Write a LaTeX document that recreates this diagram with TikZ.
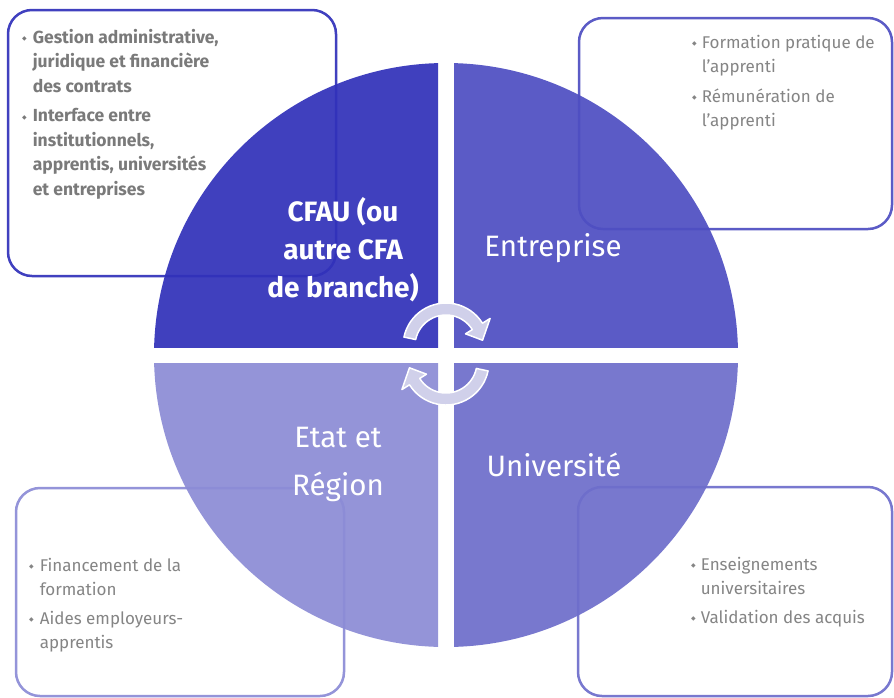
\documentclass[tikz,border=0pt]{standalone}
\usepackage{fontspec}
\setmainfont{Fira Sans}
\newfontfamily\dvfont{DejaVu Sans}
\definecolor{qa}{RGB}{50,50,186}
\definecolor{qb}{RGB}{79,79,194}
\definecolor{qc}{RGB}{140,140,214}
\definecolor{qd}{RGB}{110,110,203}
\definecolor{ba}{HTML}{4040BF}
\definecolor{bb}{HTML}{5B5BC6}
\definecolor{bc}{HTML}{9494D9}
\definecolor{bd}{HTML}{7878CF}
\definecolor{arrowc}{HTML}{D0D0EA}
\definecolor{txtgray}{HTML}{858585}
\definecolor{txtbold}{HTML}{7A7A7A}
\newcommand{\bulmark}{\raisebox{2.5pt}{\dvfont\fontsize{6}{6}\selectfont ◆}}
\tikzset{
  boxst/.style={draw, line width=2.5pt, rounded corners=24pt, fill=none, inner sep=0pt},
  lst/.style={anchor=north west, inner sep=0pt, text=txtgray, font=\fontsize{17}{24}\selectfont, align=left},
  qlab/.style={text=white, font=\fontsize{29.5}{48}\selectfont, align=center, inner sep=0pt},
  cyc/.style={fill=arrowc, draw=white, line width=1.5pt, line join=round},
}
\begin{document}
\begin{tikzpicture}[x=1pt,y=-1pt]
\useasboundingbox (0,0) rectangle (894,697);
\fill[white] (0,0) rectangle (894,697);
% boxes
\node[boxst, draw=ba, minimum width=328pt, minimum height=266pt] (b1) at (172,143) {};
\node[boxst, draw=bb, minimum width=313pt, minimum height=211pt] (b2) at (735.5,123.5) {};
\node[boxst, draw=bc, minimum width=328pt, minimum height=208pt] (b3) at (180,592) {};
\node[boxst, draw=bd, minimum width=314pt, minimum height=209pt] (b4) at (735,591.5) {};
% quadrants
\begin{scope}
\clip (0,0) rectangle (438,347);
\fill[qa, fill opacity=0.93] (446,355) circle[radius=292pt];
\end{scope}
\begin{scope}
\clip (454,0) rectangle (894,347);
\fill[qb, fill opacity=0.93] (446,355) circle[radius=292pt];
\end{scope}
\begin{scope}
\clip (0,363) rectangle (438,697);
\fill[qc, fill opacity=0.93] (446,355) circle[radius=292pt];
\end{scope}
\begin{scope}
\clip (454,363) rectangle (894,697);
\fill[qd, fill opacity=0.93] (446,355) circle[radius=292pt];
\end{scope}
% cycle arrows
\begin{scope}[shift={(446,346)}]
\draw[cyc] (168:43pt) arc[start angle=168, end angle=32, radius=43pt] -- (32:52pt) -- (9:37pt) -- (32:23pt) -- (32:31pt) arc[start angle=32, end angle=168, radius=31pt] -- cycle;
\end{scope}
\begin{scope}[shift={(446,362)}, rotate=180]
\draw[cyc] (168:43pt) arc[start angle=168, end angle=32, radius=43pt] -- (32:52pt) -- (9:37pt) -- (32:23pt) -- (32:31pt) arc[start angle=32, end angle=168, radius=31pt] -- cycle;
\end{scope}
% quadrant labels
\node[qlab, font=\fontsize{28}{38}\selectfont\bfseries] (lcfa) at (343,250) {CFAU (ou\\autre CFA\\de branche)};
\node[qlab] (lent) at (553,248) {Entreprise};
\node[qlab] (letat) at (338,464) {Etat et\\Région};
\node[qlab] (luni) at (554,465) {Université};
% lists
\node[lst, text=txtbold, font=\fontsize{17.5}{24.5}\selectfont\bfseries] (t1) at (22,26) {%
\begin{tabular}{@{}l@{\hspace{6pt}}l@{}}
\bulmark & Gestion administrative,\\
 & juridique et financière\\
 & des contrats\\[5pt]
\bulmark & Interface entre\\
 & institutionnels,\\
 & apprentis, universités\\
 & et entreprises
\end{tabular}};
\node[lst] (t2) at (692,31) {%
\begin{tabular}{@{}l@{\hspace{5pt}}l@{}}
\bulmark & Formation pratique de\\
 & l’apprenti\\[6pt]
\bulmark & Rémunération de\\
 & l’apprenti
\end{tabular}};
\node[lst] (t3) at (29,554) {%
\begin{tabular}{@{}l@{\hspace{6pt}}l@{}}
\bulmark & Financement de la\\
 & formation\\[5pt]
\bulmark & Aides employeurs-\\
 & apprentis
\end{tabular}};
\node[lst] (t4) at (691,553) {%
\begin{tabular}{@{}l@{\hspace{5pt}}l@{}}
\bulmark & Enseignements\\
 & universitaires\\[5pt]
\bulmark & Validation des acquis
\end{tabular}};
\end{tikzpicture}
\end{document}
